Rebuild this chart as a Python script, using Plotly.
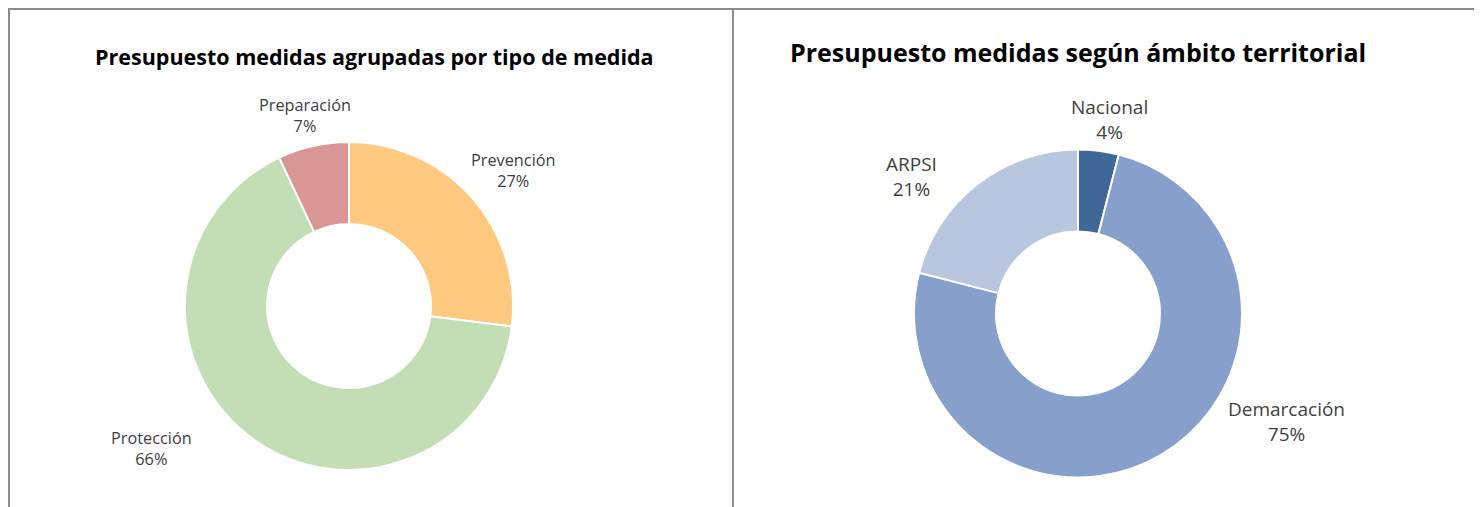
import plotly.graph_objects as go

W, H = 1482, 507
OFF = 8  # page body margin offset

left_title = "Presupuesto medidas agrupadas por tipo de medida"
left_labels = ["Prevención", "Protección", "Preparación"]
left_values = [27, 66, 7]
left_colors = ["#FFC97F", "#C3DEB4", "#D99694"]

right_title = "Presupuesto medidas según ámbito territorial"
right_labels = ["Nacional", "Demarcación", "ARPSI"]
right_values = [4, 75, 21]
right_colors = ["#3F6797", "#86A0CB", "#B8C6DF"]

def px(x):
    return (x - OFF) / W

def py(y):
    return 1 - (y - OFF) / H

def dom(cx, cy, r):
    return dict(x=[px(cx - r), px(cx + r)], y=[py(cy + r), py(cy - r)])

fig = go.Figure()
fig.add_trace(go.Pie(labels=left_labels, values=left_values, hole=0.5, sort=False,
                     direction="clockwise", rotation=0, textinfo="none",
                     marker=dict(colors=left_colors, line=dict(color="white", width=2)),
                     domain=dom(349, 306, 164), showlegend=False, hoverinfo="label+percent"))
fig.add_trace(go.Pie(labels=right_labels, values=right_values, hole=0.5, sort=False,
                     direction="clockwise", rotation=0, textinfo="none",
                     marker=dict(colors=right_colors, line=dict(color="white", width=2)),
                     domain=dom(1078, 313.5, 164), showlegend=False, hoverinfo="label+percent"))

font_t = "Open Sans"
ann = []
ann.append(dict(x=px(374), y=py(56), text="<b>" + left_title + "</b>", showarrow=False,
                font=dict(family=font_t, size=21.5, color="#000000"), xanchor="center", yanchor="middle"))
ann.append(dict(x=px(1078), y=py(52), text="<b>" + right_title + "</b>", showarrow=False,
                font=dict(family=font_t, size=25, color="#000000"), xanchor="center", yanchor="middle"))

left_pos = [(513, 170), (151, 448), (305, 116)]
right_pos = [(1109, 119), (1286, 421), (911, 177)]

def pct(vals, i):
    return f"{round(100 * vals[i] / sum(vals))}%"

for i, (x, y) in enumerate(left_pos):
    ann.append(dict(x=px(x), y=py(y), text=left_labels[i] + "<br>" + pct(left_values, i),
                    showarrow=False, font=dict(family=font_t, size=16.3, color="#404040"),
                    xanchor="center", yanchor="middle"))
for i, (x, y) in enumerate(right_pos):
    ann.append(dict(x=px(x), y=py(y), text=right_labels[i] + "<br>" + pct(right_values, i),
                    showarrow=False, font=dict(family=font_t, size=19, color="#404040"),
                    xanchor="center", yanchor="middle"))

line = dict(color="#8C8C8C", width=2)
shapes = [
    dict(type="line", xref="paper", yref="paper", x0=px(8), x1=px(1482), y0=py(9), y1=py(9), line=line),
    dict(type="line", xref="paper", yref="paper", x0=px(9), x1=px(9), y0=py(8), y1=py(507), line=line),
    dict(type="line", xref="paper", yref="paper", x0=px(733), x1=px(733), y0=py(8), y1=py(507), line=line),
]

fig.update_layout(width=W, height=H, margin=dict(l=0, r=0, t=0, b=0),
                  paper_bgcolor="white", plot_bgcolor="white",
                  annotations=ann, shapes=shapes)
fig.write_html("out.html")
